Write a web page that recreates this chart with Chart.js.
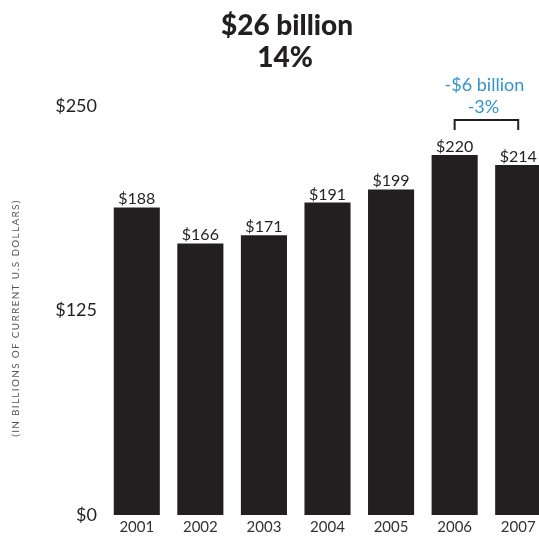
<!DOCTYPE html>
<html>
<head>
<meta charset="utf-8">
<script src="https://cdn.jsdelivr.net/npm/chart.js@4.4.1/dist/chart.umd.min.js"></script>
<style>
  html, body { margin: 0; padding: 0; background: #fff; overflow: hidden; }
  #wrap { width: 539px; height: 537px; overflow: hidden; position: relative; }
  canvas { display: block; }
</style>
</head>
<body>
<div id="wrap"><canvas id="c" width="560" height="537"></canvas></div>
<script>
// Annual totals, billions of current U.S. dollars
const years = ['2001', '2002', '2003', '2004', '2005', '2006', '2007'];
const totals = [188, 166, 171, 191, 199, 220, 214];
const yTicks = [0, 125, 250];
const axisTitle = '(IN BILLIONS OF CURRENT U.S DOLLARS)';

const INK = '#231f20';
const BLUE = '#3593d0';
const FONT = 'Lato, "DejaVu Sans", sans-serif';

const fmtMoney = v => '$' + v;
const growth = totals[totals.length - 1] - totals[0];
const growthPct = Math.round(growth / totals[0] * 100);
const lastDelta = totals[6] - totals[5];
const lastPct = Math.round(lastDelta / totals[5] * 100);

const overlay = {
  id: 'overlay',
  afterDatasetsDraw(chart) {
    const ctx = chart.ctx;
    const y = chart.scales.y;
    const bars = chart.getDatasetMeta(0).data;
    ctx.save();

    // value above each bar
    ctx.fillStyle = INK;
    ctx.font = '16px ' + FONT;
    ctx.textAlign = 'center';
    ctx.textBaseline = 'alphabetic';
    bars.forEach((b, i) => ctx.fillText(fmtMoney(totals[i]), b.x, b.y - 3));

    // headline: growth over the period
    ctx.font = '900 28px ' + FONT;
    ctx.fillText('$' + growth + ' billion', 287, 35);
    ctx.fillText(growthPct + '%', 285, 67);

    // bracket between the last two years
    const x1 = bars[5].x, x2 = bars[6].x;
    const top = y.getPixelForValue(241.5), leg = y.getPixelForValue(235.3);
    ctx.strokeStyle = INK;
    ctx.lineWidth = 2;
    ctx.beginPath();
    ctx.moveTo(x1, leg); ctx.lineTo(x1, top); ctx.lineTo(x2, top); ctx.lineTo(x2, leg);
    ctx.stroke();

    ctx.fillStyle = BLUE;
    ctx.font = '18px ' + FONT;
    const cx = (x1 + x2) / 2 - 2;
    ctx.fillText('-$' + Math.abs(lastDelta) + ' billion', cx, 91);
    ctx.fillText('-' + Math.abs(lastPct) + '%', cx - 1, 113);

    // rotated axis caption
    ctx.fillStyle = '#555';
    ctx.font = '10px ' + FONT;
    ctx.translate(16, 318);
    ctx.rotate(-Math.PI / 2);
    if ('letterSpacing' in ctx) ctx.letterSpacing = '1.3px';
    ctx.textBaseline = 'middle';
    ctx.fillText(axisTitle, 0, 0);
    ctx.restore();
  }
};

new Chart(document.getElementById('c'), {
  type: 'bar',
  data: {
    labels: years,
    datasets: [{
      data: totals,
      backgroundColor: INK,
      borderWidth: 0,
      categoryPercentage: 1,
      barPercentage: 0.725
    }]
  },
  options: {
    responsive: false,
    animation: false,
    layout: { padding: { top: 106, right: 10, left: 0, bottom: 0 } },
    plugins: { legend: { display: false }, tooltip: { enabled: false }, title: { display: false } },
    scales: {
      x: {
        grid: { display: false, drawTicks: false },
        border: { display: false },
        ticks: { color: '#333', font: { family: FONT, size: 15 }, padding: 3 },
        afterFit(s) { s.height = 22; }
      },
      y: {
        min: 0, max: 250,
        grid: { display: false, drawTicks: false },
        border: { display: false },
        afterBuildTicks(s) { s.ticks = yTicks.map(v => ({ value: v })); },
        ticks: { color: INK, font: { family: FONT, size: 18 }, padding: 8, callback: v => fmtMoney(v) },
        afterFit(s) { s.width = 105; }
      }
    }
  },
  plugins: [overlay]
});
</script>
</body>
</html>
